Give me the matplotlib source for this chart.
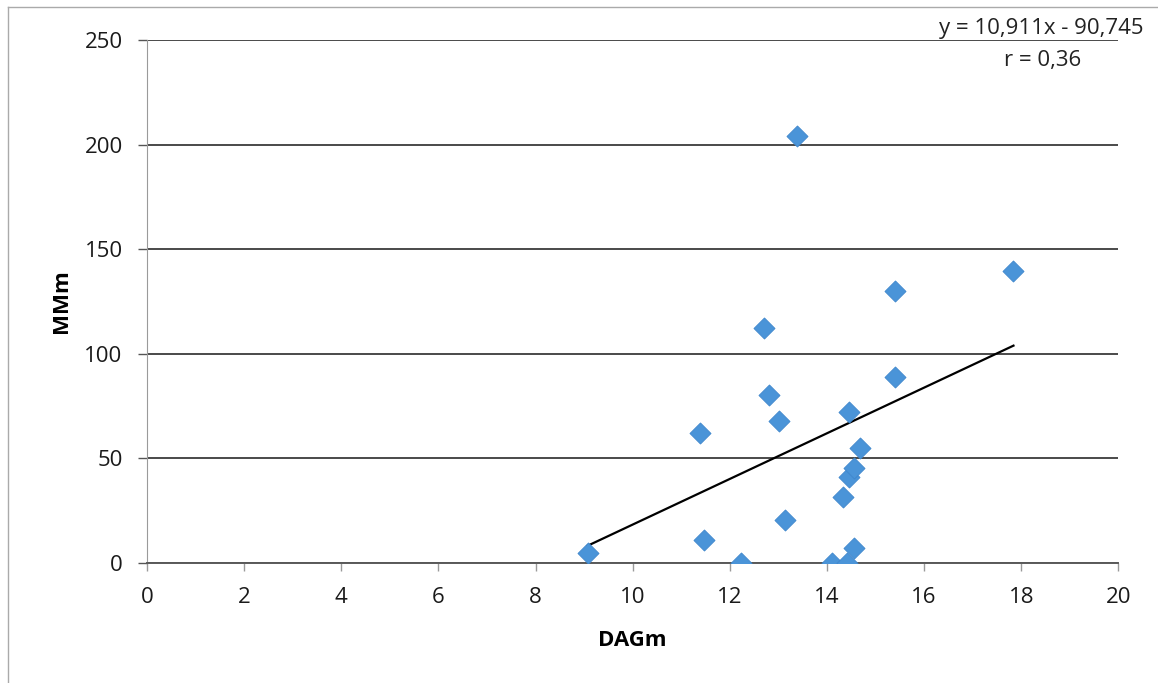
import numpy as np
import matplotlib
matplotlib.use("Agg")
from matplotlib import pyplot as plt
from matplotlib.lines import Line2D

# values
dagm = [9.07, 11.39, 11.47, 12.22, 12.70, 12.80, 13.02, 13.13, 13.39, 14.10,
        14.32, 14.42, 14.46, 14.46, 14.56, 14.55, 14.68, 15.40, 15.41, 17.84]
mmm = [4.6, 62, 11, 0, 112.5, 80.5, 68, 20.5, 204, 0,
       31.5, 0, 41, 72, 45.5, 7, 55, 89, 130, 139.5]
slope, intercept = 10.911, -90.745
eq_text = "y = 10,911x - 90,745"
r_text = "r = 0,36"
xticks = list(range(0, 21, 2))
yticks = list(range(0, 251, 50))

plt.rcParams['font.family'] = ['Open Sans', 'DejaVu Sans']
fs = 16

fig = plt.figure(figsize=(11.58, 6.83), dpi=100)
ax = fig.add_axes([0.1269, 0.1757, 0.8389, 0.7657])

ax.scatter(dagm, mmm, marker="D", s=115, color="#4a94d8", edgecolors="#3f86cc",
           linewidths=0.6, zorder=3)

xs = np.array([min(dagm), max(dagm)])
ax.plot(xs, slope * xs + intercept, color="black", lw=1.6, zorder=2)

ax.set_xlim(0, 20)
ax.set_ylim(0, 250)
ax.set_xticks(xticks)
ax.set_yticks(yticks)
ax.tick_params(axis="both", labelsize=fs, colors="#1a1a1a", width=1,
               direction="out")
ax.tick_params(axis="x", color="#9a9a9a", length=6, pad=11)
ax.tick_params(axis="y", color="#555555", length=6.5, pad=11)
ax.yaxis.grid(True, color="#4a4a4a", lw=1.4)
ax.set_axisbelow(True)
for s in ["top", "right"]:
    ax.spines[s].set_visible(False)
ax.spines["left"].set_color("#9a9a9a")
ax.spines["bottom"].set_color("#5a5a5a")
ax.spines["bottom"].set_linewidth(1.4)

ax.set_xlabel("DAGm", fontsize=fs, fontweight="bold")
ax.set_ylabel("MMm", fontsize=fs, fontweight="bold")
ax.xaxis.set_label_coords(0.5, -0.148)
ax.xaxis.label.set_va("center")
ax.yaxis.set_label_coords(-0.088, 0.5)
ax.yaxis.label.set_va("center")
ax.yaxis.label.set_ha("center")

fig.text(0.899, 0.959, eq_text, ha="center", va="center", fontsize=fs, color="#222222")
fig.text(0.900, 0.912, r_text, ha="center", va="center", fontsize=fs, color="#222222")

# outer chart-area frame (left and top edges visible in the scan)
fig.add_artist(Line2D([0.007, 0.007], [0.0, 0.99], transform=fig.transFigure,
                      color="#aaaaaa", lw=1))
fig.add_artist(Line2D([0.007, 1.0], [0.99, 0.99], transform=fig.transFigure,
                      color="#aaaaaa", lw=1))

fig.savefig("out.png", dpi=100)
